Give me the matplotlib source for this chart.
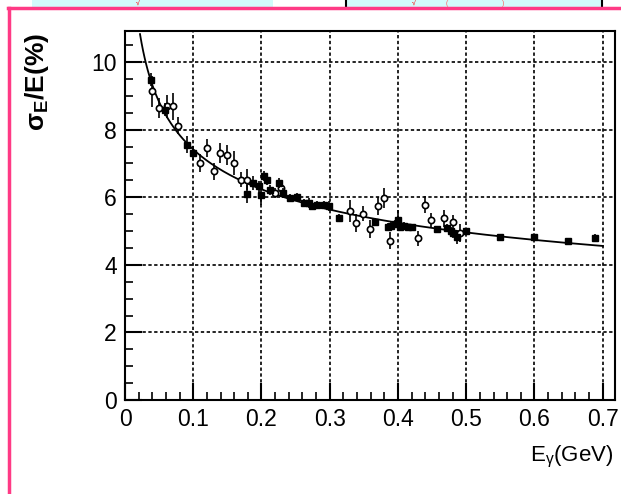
import numpy as np
import matplotlib
matplotlib.use("Agg")
import matplotlib.pyplot as plt
from matplotlib.patches import Rectangle
from matplotlib.lines import Line2D
from matplotlib.ticker import MultipleLocator

plt.rcParams['font.family'] = ['Liberation Sans', 'DejaVu Sans']
plt.rcParams['mathtext.fontset'] = 'custom'
plt.rcParams['mathtext.rm'] = 'Liberation Sans'
plt.rcParams['mathtext.it'] = 'Liberation Sans:italic'
plt.rcParams['mathtext.bf'] = 'Liberation Sans:bold'

# energy resolution points, filled markers
e_fill = [0.038, 0.059, 0.091, 0.099, 0.179, 0.188, 0.196, 0.200, 0.203, 0.208,
          0.213, 0.225, 0.232, 0.242, 0.252, 0.262, 0.269, 0.274, 0.281, 0.291,
          0.2985, 0.313, 0.367, 0.385, 0.390, 0.396, 0.400, 0.403, 0.409, 0.414,
          0.421, 0.457, 0.472, 0.477, 0.480, 0.487, 0.4993, 0.550, 0.600, 0.649, 0.689]
s_fill = [9.48, 8.59, 7.56, 7.31, 6.10, 6.42, 6.32, 6.07, 6.62, 6.52,
          6.22, 6.42, 6.12, 5.97, 6.02, 5.83, 5.83, 5.73, 5.78, 5.78,
          5.73, 5.38, 5.28, 5.12, 5.16, 5.21, 5.33, 5.12, 5.14, 5.12,
          5.12, 5.06, 5.09, 4.99, 4.94, 4.82, 4.99, 4.82, 4.82, 4.72, 4.79]
err_fill = [0.2, 0.2, 0.25, 0.2, 0.27, 0.2, 0.15, 0.3, 0.15, 0.15,
            0.15, 0.15, 0.15, 0.12, 0.12, 0.12, 0.15, 0.12, 0.12, 0.12,
            0.15, 0.12, 0.12, 0.12, 0.12, 0.12, 0.3, 0.12, 0.12, 0.1,
            0.1, 0.1, 0.12, 0.12, 0.15, 0.2, 0.1, 0.08, 0.1, 0.08, 0.12]

# open markers
e_open = [0.040, 0.050, 0.061, 0.070, 0.078, 0.110, 0.120, 0.131, 0.1395, 0.149,
          0.160, 0.170, 0.179, 0.220, 0.228, 0.329, 0.339, 0.349, 0.359, 0.370,
          0.379, 0.389, 0.429, 0.439, 0.449, 0.468, 0.480, 0.491]
s_open = [9.13, 8.64, 8.69, 8.69, 8.12, 7.01, 7.46, 6.77, 7.31, 7.26,
          7.01, 6.52, 6.52, 6.12, 6.27, 5.60, 5.24, 5.51, 5.06, 5.73,
          5.97, 4.72, 4.79, 5.78, 5.33, 5.38, 5.28, 4.94]
err_open = [0.45, 0.3, 0.35, 0.4, 0.25, 0.27, 0.27, 0.25, 0.3, 0.3,
            0.35, 0.22, 0.32, 0.15, 0.15, 0.32, 0.27, 0.22, 0.27, 0.27,
            0.3, 0.25, 0.22, 0.25, 0.2, 0.25, 0.2, 0.27]

# fit: sigma/E = a / E^p
fit_a = 4.17
fit_p = 0.25
fit_range = (0.022, 0.70)

W, H = 621, 494
fig = plt.figure(figsize=(W / 100, H / 100), dpi=100)


def px(x, y):
    return x / W, 1 - y / H


# page strip above the plot
fig.patches.append(Rectangle(px(32, 7.5), 241 / W, 7.5 / H, transform=fig.transFigure,
                             facecolor='#d2fbfb', edgecolor='none'))
fig.patches.append(Rectangle(px(346, 7.5), 256 / W, 7.5 / H, transform=fig.transFigure,
                             facecolor='#d2fbfb', edgecolor='none'))
for xv in (345.5, 602):
    fig.lines.append(Line2D([xv / W, xv / W], [1 - 7 / H, 1], transform=fig.transFigure,
                            color='black', lw=1.5))
for xv, s, c in [(138, '√', 'red'), (414, '√', 'red'), (447, '(', '#ff6060'), (503, ')', '#ff6060')]:
    fig.text(xv / W, 1 - 3.5 / H, s, color=c, fontsize=5, ha='center', va='center')
fig.lines.append(Line2D([8 / W, 1], [1 - 8 / H, 1 - 8 / H], transform=fig.transFigure,
                        color='#ff3a85', lw=2.5))
fig.lines.append(Line2D([9 / W, 9 / W], [0, 1 - 8 / H], transform=fig.transFigure,
                        color='#ff3a85', lw=2.5))

ax = fig.add_axes([125 / W, 1 - 400 / H, 490 / W, 369 / H])

x_fit = np.linspace(fit_range[0], fit_range[1], 300)
ax.plot(x_fit, fit_a / x_fit ** fit_p, color='black', lw=1.3, zorder=2)

ax.errorbar(e_open, s_open, yerr=err_open, fmt='o', ms=4.5, mfc='white', mec='black',
            mew=1.2, ecolor='black', elinewidth=1.2, capsize=0, zorder=3)
ax.errorbar(e_fill, s_fill, yerr=err_fill, fmt='s', ms=3.8, mfc='black', mec='black',
            ecolor='black', elinewidth=1.2, capsize=0, zorder=4)

ax.set_xlim(0, 0.718)
ax.set_ylim(0, 10.92)
ax.xaxis.set_minor_locator(MultipleLocator(0.02))
ax.yaxis.set_minor_locator(MultipleLocator(0.5))
ax.set_xticks(np.arange(0, 0.71, 0.1))
ax.set_xticklabels(['0', '0.1', '0.2', '0.3', '0.4', '0.5', '0.6', '0.7'])
ax.set_yticks([0, 2, 4, 6, 8, 10])
ax.set_yticklabels(['0', '2', '4', '6', '8', '10'])
ax.tick_params(which='major', direction='in', length=12, width=1.5, labelsize=16.5, pad=6)
ax.tick_params(which='minor', direction='in', length=6, width=1.2)
ax.grid(True, which='major', color='black', linestyle=(0, (2, 1.5)), lw=1.2)
for sp in ax.spines.values():
    sp.set_linewidth(1.5)

fig.text(37 / W, 1 - 33 / H, r'$\mathbf{\sigma_E}$/E(%)', rotation=90,
         ha='center', va='top', fontsize=19, fontweight='bold')
fig.text(613 / W, 1 - 457 / H, r'E$\mathregular{_\gamma}$(GeV)', ha='right', va='center',
         fontsize=16)

fig.savefig('out.png', dpi=100, facecolor='white')
